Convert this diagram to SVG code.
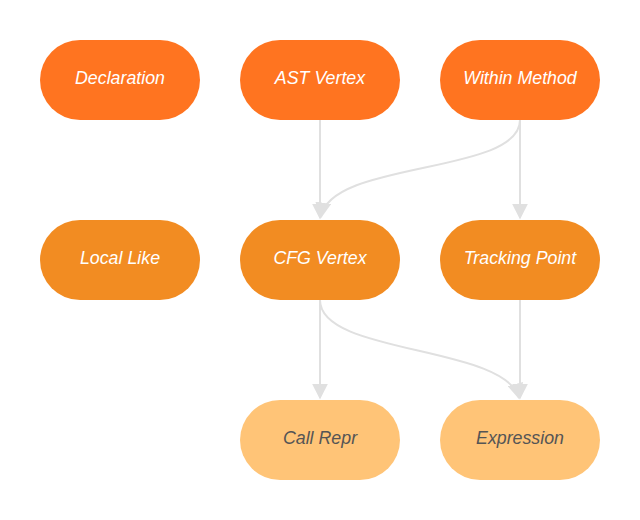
<svg xmlns="http://www.w3.org/2000/svg" width="640" height="520" viewBox="0 0 640 520">
<style>
.n rect{rx:40px;ry:40px}
.t1 rect{fill:#FF7420}
.t2 rect{fill:#F28C22}
.t3 rect{fill:#FFC477}
.n text{font-family:"Liberation Sans",Arial,sans-serif;font-style:italic;font-size:17.8px;text-anchor:middle;dominant-baseline:central}
.t1 text,.t2 text{fill:#FFFFFF}
.t3 text{fill:#555555}
.e path{fill:none;stroke:#E0E0E0;stroke-width:2;marker-end:url(#ah)}
</style>
<defs>
<marker id="ah" viewBox="0 0 10 10" refX="9" refY="5" markerWidth="8" markerHeight="8" markerUnits="strokeWidth" orient="auto">
<path d="M0,0 L10,5 L0,10 z" fill="#E0E0E0"/>
</marker>
</defs>
<rect width="640" height="520" fill="#FFFFFF"/>
<g id="edges" class="e">
<path d="M320,120 L320,218"/>
<path d="M520,120 L520,218"/>
<path d="M520,120 C520,175 330,160 321,217"/>
<path d="M320,300 L320,398"/>
<path d="M520,300 L520,398"/>
<path d="M320,300 C320,355 505,345 519,398"/>
</g>
<g id="declaration" class="n t1"><rect x="40" y="40" width="160" height="80"/><text x="120" y="78">Declaration</text></g>
<g id="ast-vertex" class="n t1"><rect x="240" y="40" width="160" height="80"/><text x="320" y="78">AST Vertex</text></g>
<g id="within-method" class="n t1"><rect x="440" y="40" width="160" height="80"/><text x="520" y="78">Within Method</text></g>
<g id="local-like" class="n t2"><rect x="40" y="220" width="160" height="80"/><text x="120" y="258">Local Like</text></g>
<g id="cfg-vertex" class="n t2"><rect x="240" y="220" width="160" height="80"/><text x="320" y="258">CFG Vertex</text></g>
<g id="tracking-point" class="n t2"><rect x="440" y="220" width="160" height="80"/><text x="520" y="258">Tracking Point</text></g>
<g id="call-repr" class="n t3"><rect x="240" y="400" width="160" height="80"/><text x="320" y="438">Call Repr</text></g>
<g id="expression" class="n t3"><rect x="440" y="400" width="160" height="80"/><text x="520" y="438">Expression</text></g>
</svg>
